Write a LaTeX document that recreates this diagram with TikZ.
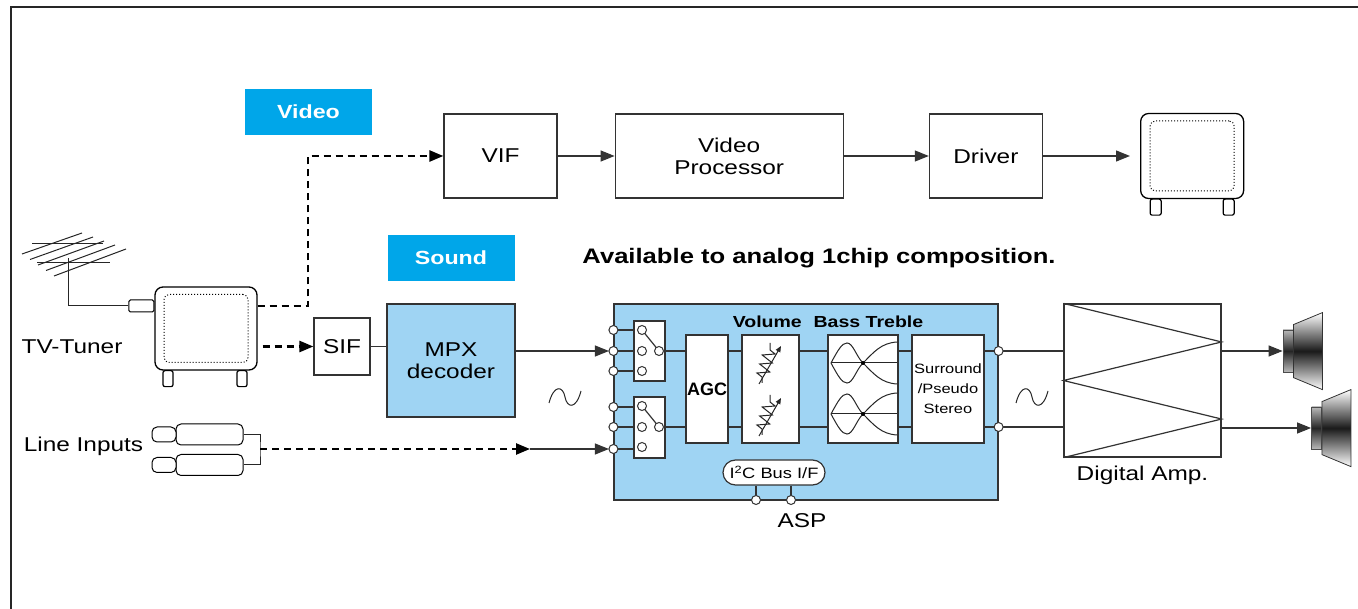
\documentclass[tikz,border=0pt]{standalone}
\usepackage{fontspec}
\setmainfont{Liberation Sans}[FakeStretch=1.22]
\usetikzlibrary{arrows.meta,positioning,calc,shapes.misc}
\definecolor{tagcyan}{HTML}{00A6E9}
\definecolor{chipblue}{HTML}{9FD4F3}
\tikzset{
block/.style = {draw=black!80, fill=white, rectangle, line width=1.2pt, inner sep=0pt, align=center, font=\fontsize{20}{22}\selectfont},
tag/.style = {fill=tagcyan, text=white, inner sep=0pt, minimum width=127pt, minimum height=46pt, font=\fontsize{19}{22}\selectfont\bfseries},
label/.style = {font=\fontsize{20}{22}\selectfont, align=center},
term/.style = {draw=black!80, fill=white, circle, line width=1pt, inner sep=0pt, minimum size=9pt},
screen/.style = {draw, fill=white, rectangle, rounded corners=8pt, line width=1.3pt, inner sep=0pt},
screeninner/.style = {draw, dotted, rounded corners=5pt, line width=1pt, inner sep=0pt},
leg/.style = {draw, fill=white, rounded corners=2pt, line width=1.2pt},
wire/.style = {draw=black!80, line width=1.2pt},
dashwire/.style = {draw=black, line width=2.5pt, dash pattern=on 7pt off 5pt},
thin/.style = {draw=black!85, line width=1pt}
}
\begin{document}
\begin{tikzpicture}[x=1pt, y=-1pt, >={Triangle[length=14pt,width=11pt]}]
\useasboundingbox (0,0) rectangle (1358,609);
\draw[line width=1.5pt, black!85] (11,609) -- (11,7) -- (1358,7);

% video chain
\node[tag] (videotag) at (308.5,112) {Video};
\node[block, minimum width=113pt, minimum height=84pt] (vif) at (500.5,156) {VIF};
\node[block, minimum width=228pt, minimum height=84pt, right=57pt of vif] (vproc) {Video\\Processor};
\node[block, minimum width=113pt, minimum height=84pt, right=85pt of vproc] (driver) {Driver};
\node[screen, minimum width=103pt, minimum height=85pt, right=97pt of driver] (monitor) {};
\node[screeninner, minimum width=84pt, minimum height=70pt] (monscreen) at (monitor) {};
\foreach \dx in {-42,31}
  \draw[leg] ($(monitor.south)+(\dx,0)$) rectangle ++(11,16);
\draw[wire,->] (vif) -- (vproc);
\draw[wire,->] (vproc) -- (driver);
\draw[wire,->,shorten >=10pt] (driver) -- (monitor);

% tuner with antenna
\node[screen, minimum width=102pt, minimum height=83pt] (tuner) at (206,328.5) {};
\node[screeninner, minimum width=84pt, minimum height=68pt] (tunscreen) at (tuner) {};
\foreach \dx in {-43,31}
  \draw[leg] ($(tuner.south)+(\dx,0)$) rectangle ++(10,16);
\node[draw, fill=white, rounded corners=1.5pt, line width=1pt, inner sep=0pt,
  minimum width=25pt, minimum height=12pt, anchor=east] (stub) at ($(tuner.west)+(0,-22.5)$) {};
\coordinate (mast) at (68,258);
\draw[thin] (stub.west) -| (mast);
\foreach \i in {0,...,4}
  \draw[thin] (22+8*\i,254+5.5*\i) -- (82+11*\i,233+4*\i);
\draw[thin] (32,244) -- (103,244);
\draw[thin] (37,263) -- (110,263);
\node[label] (tunerlabel) at (72,347) {TV-Tuner};

\coordinate (vtap) at (308,306);
\draw[dashwire,->] ($(tuner.east)+(0,-22.5)$) -- (vtap) |- (vif.west);

% sound chain
\node[tag] (soundtag) at (451,258) {Sound};
\node[block, minimum width=56pt, minimum height=57pt] (sif) at (342,346.5) {SIF};
\node[block, fill=chipblue, minimum width=128pt, minimum height=113pt] (mpx) at (451,360.5) {MPX\\decoder};
\draw[dashwire,->,shorten <=5pt] (tuner.east |- sif.west) -- (sif.west);
\draw[wire] (sif.east) -- (sif.east -| mpx.west);
\node[font=\fontsize{21}{24}\selectfont\bfseries] (note) at (819,258) {Available to analog 1chip composition.};

% line inputs
\node[draw, fill=white, rounded corners=5pt, line width=1pt, minimum width=67pt, minimum height=21pt, inner sep=0pt] (rcaA) at (209.5,434.5) {};
\node[draw, fill=white, rounded corners=5pt, line width=1pt, minimum width=67pt, minimum height=21pt, inner sep=0pt] (rcaB) at (209.5,465) {};
\foreach \p in {rcaA,rcaB}
  \node[draw, fill=white, rounded corners=5pt, line width=1pt, minimum width=24pt, minimum height=15pt, inner sep=0pt, anchor=east] at ([xshift=1pt]\p.west) {};
\node[label] (linelabel) at (83.5,446) {Line Inputs};
\coordinate (jn) at (260,449);
\draw[thin] (rcaA.east) -| (jn) |- (rcaB.east);

% audio signal processor
\node[block, fill=chipblue, minimum width=384pt, minimum height=196pt] (asp) at (806,402) {};
\node[font=\fontsize{16}{20}\selectfont\bfseries] (tonetitle) at (828,322) {Volume\hspace{0.4em} Bass Treble};
\node[block, minimum width=31pt, minimum height=60pt] (swa) at (649.5,351) {};
\node[block, minimum width=31pt, minimum height=61pt] (swb) at (649.5,427.5) {};
\node[block, minimum width=42pt, minimum height=108pt, font=\fontsize{18}{20}\selectfont\bfseries\addfontfeature{FakeStretch=1.0}] (agc) at (707,389) {AGC};
\node[block, minimum width=57pt, minimum height=108pt] (vol) at (770.5,389) {};
\node[block, minimum width=70pt, minimum height=108pt] (tone) at (863,389) {};
\node[block, minimum width=72pt, minimum height=108pt, font=\fontsize{13.5}{20}\selectfont] (surround) at (948,389) {Surround\\/Pseudo\\Stereo};

% input terminals and selector switches
\foreach \n/\y in {a1/330,a2/351,a3/371,b1/407,b2/427,b3/449} {
  \coordinate (in\n) at (asp.west |- 0,\y);
  \draw[wire] (in\n) -- (swa.west |- in\n);
}
\draw[wire,->,shorten >=4.5pt] (mpx.east |- ina2) -- (ina2);
\coordinate (lmid) at (530,449);
\draw[dashwire,->] (jn) -- (lmid);
\draw[wire,->,shorten >=4.5pt] (lmid) -- (inb3);
\foreach \n in {a1,a2,a3,b1,b2,b3}
  \node[term] at (in\n) {};
\foreach \s/\y in {swa/351,swb/427} {
  \draw[wire] (642,\y-21) -- (659,\y);
  \foreach \cy in {-21,0,20}
    \node[term] at (642,\y+\cy) {};
  \node[term] at (659,\y) {};
}

% signal wires through the blocks
\foreach \a/\b in {swa/agc,agc/vol,vol/tone,tone/surround} {
  \draw[wire] (\a.east |- swa.east) -- (\b.west |- swa.east);
  \draw[wire] (\a.east |- 0,427) -- (\b.west |- 0,427);
}

% variable resistors
\foreach \dy in {0,52} {
  \begin{scope}[yshift=-\dy pt]
    \draw[thin] (770,343) -- (770,350) -- (775.1,354) -- (762.2,355) -- (772.4,363)
      -- (759.6,364) -- (769.8,372) -- (756.9,373) -- (762,377) -- (762,383);
    \draw[thin,-{Triangle[length=6pt,width=5pt]}] (759,384) -- (781,346);
  \end{scope}
}

% bass and treble curves
\foreach \dy in {0,51} {
  \begin{scope}[yshift=-\dy pt]
    \draw[thin] (831,363) -- (897,363);
    \draw[thin] (831,363) .. controls (838,350) and (842,343) .. (847,343)
      .. controls (853,343) and (856,356) .. (863,363);
    \draw[thin] (831,363) .. controls (838,376) and (842,383) .. (847,383)
      .. controls (853,383) and (856,370) .. (863,363);
    \draw[thin] (863,363) .. controls (874,352) and (881,343) .. (897,342);
    \draw[thin] (863,363) .. controls (874,374) and (881,383) .. (897,384);
    \fill (863,363) circle (2pt);
  \end{scope}
}

% control bus
\node[draw=black!80, fill=white, rounded rectangle, line width=1.2pt, minimum width=102pt, minimum height=25pt, inner sep=0pt,
  font=\fontsize{15}{20}\selectfont] (i2c) at (774,472.5) {I\textsuperscript{2}C Bus I/F};
\foreach \x in {756,791} {
  \draw[wire] (i2c.south -| \x,0) -- (\x,500);
  \node[term] at (\x,500) {};
}
\node[font=\fontsize{20}{24}\selectfont] (asplabel) at (802,521) {ASP};

% output terminals
\coordinate (outa) at (asp.east |- swa.east);
\coordinate (outb) at (asp.east |- 0,427);

% digital amplifier
\node[block, minimum width=157pt, minimum height=153pt] (amp) at (1142.5,380.5) {};
\draw[wire] (amp.north west) -- ($(amp.north east)!0.25!(amp.south east)$) -- (amp.west)
  -- ($(amp.north east)!0.75!(amp.south east)$) -- (amp.south west);
\node[label, below=5pt of amp] (amplabel) {Digital Amp.};
\draw[wire] (surround.east |- outa) -- (amp.west |- outa);
\draw[wire] (surround.east |- outb) -- (amp.west |- outb);
\node[term] at (outa) {};
\node[term] at (outb) {};

% speakers
\node[draw=black!70, top color=gray!55, bottom color=gray!55, middle color=black!85, line width=0.8pt,
  minimum width=10pt, minimum height=42pt, inner sep=0pt] (spkA) at (1288,351) {};
\node[draw=black!70, top color=gray!55, bottom color=gray!55, middle color=black!85, line width=0.8pt,
  minimum width=10pt, minimum height=42pt, inner sep=0pt] (spkB) at (1316.5,428) {};
\foreach \s in {spkA,spkB}
  \draw[draw=black!80, line width=0.8pt, top color=white, bottom color=white, middle color=black!90]
    ($(\s.north east)+(0,-5)$) -- ++(29,-12) -- ++(0,77) -- ++(-29,-12) -- cycle;
\draw[wire,->] (amp.east |- spkA.west) -- (spkA.west);
\draw[wire,->] (amp.east |- spkB.west) -- (spkB.west);

% analog signal marks
\foreach \dx in {0,467}
  \draw[thin] (549+\dx,403) .. controls (554+\dx,384) and (563+\dx,386) .. (565+\dx,397)
    .. controls (567+\dx,408) and (576+\dx,410) .. (581+\dx,391);
\end{tikzpicture}
\end{document}
